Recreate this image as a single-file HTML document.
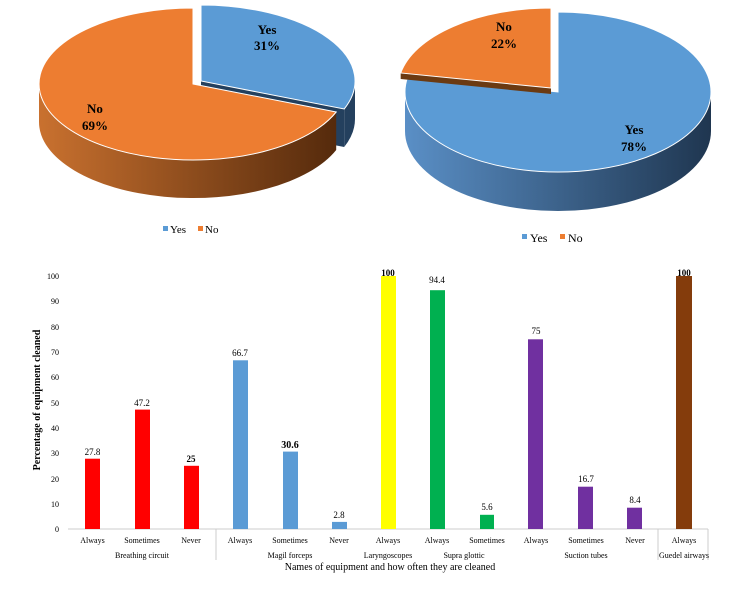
<!DOCTYPE html>
<html><head><meta charset="utf-8"><style>
html,body{margin:0;padding:0;background:#fff;}
svg{display:block;font-family:"Liberation Serif",serif;}
</style></head><body>
<svg width="748" height="602" viewBox="0 0 748 602" xmlns="http://www.w3.org/2000/svg">
<defs>
<linearGradient id="og" x1="0" x2="1" y1="0" y2="0"><stop offset="0" stop-color="#c9712f"/><stop offset="1" stop-color="#552a0c"/></linearGradient>
<linearGradient id="bg" x1="0" x2="1" y1="0" y2="0"><stop offset="0" stop-color="#5a8fc6"/><stop offset="1" stop-color="#1f3650"/></linearGradient>
</defs>
<!-- Left pie -->
<path d="M201,81 L344.2,109 L344.2,147 L201,119 Z" fill="#24405e"/>
<path d="M355,81 A154,76 0 0,1 344.2,109 L344.2,147 A154,76 0 0,0 355,119 Z" fill="#24405e"/>
<path d="M201,81 L201,5 A154,76 0 0,1 344.2,109 Z" fill="#5b9bd5" stroke="#fff" stroke-width="1"/>
<path d="M336.2,112 A154,76 0 0,1 39,84 L39,122 A154,76 0 0,0 336.2,150 Z" fill="url(#og)"/>
<path d="M193,84 L336.2,112 A154,76 0 1,1 193,8 Z" fill="#ed7d31" stroke="#fff" stroke-width="1"/>
<text x="267" y="34" font-size="13" font-weight="bold" text-anchor="middle">Yes</text>
<text x="267" y="50" font-size="13" font-weight="bold" text-anchor="middle">31%</text>
<text x="95" y="113" font-size="13" font-weight="bold" text-anchor="middle">No</text>
<text x="95" y="130" font-size="13" font-weight="bold" text-anchor="middle">69%</text>
<rect x="163" y="226" width="5" height="5" fill="#5b9bd5"/><text x="170" y="233" font-size="11">Yes</text>
<rect x="198" y="226" width="5" height="5" fill="#ed7d31"/><text x="205" y="233" font-size="11">No</text>
<!-- Right pie -->
<path d="M711,92 A153,80 0 0,1 405,92 L405,131 A153,80 0 0,0 711,131 Z" fill="url(#bg)"/>
<path d="M558,92 L558,12 A153,80 0 1,1 407.7,77 Z" fill="#5b9bd5" stroke="#fff" stroke-width="1"/>
<path d="M551,88 L400.7,73 L400.7,79 L551,94 Z" fill="#6b3a12"/>
<path d="M551,88 L400.7,73 A153,80 0 0,1 551,8 Z" fill="#ed7d31" stroke="#fff" stroke-width="1"/>
<text x="504" y="31" font-size="13" font-weight="bold" text-anchor="middle">No</text>
<text x="504" y="48" font-size="13" font-weight="bold" text-anchor="middle">22%</text>
<text x="634" y="134" font-size="13" font-weight="bold" text-anchor="middle">Yes</text>
<text x="634" y="151" font-size="13" font-weight="bold" text-anchor="middle">78%</text>
<rect x="522" y="234" width="5" height="5" fill="#5b9bd5"/><text x="530" y="242" font-size="12">Yes</text>
<rect x="560" y="234" width="5" height="5" fill="#ed7d31"/><text x="568" y="242" font-size="12">No</text>
<!-- Bar chart -->
<g font-size="8" text-anchor="end" fill="#000">
<text x="59" y="532">0</text><text x="59" y="507">10</text><text x="59" y="482">20</text><text x="59" y="456">30</text><text x="59" y="431">40</text><text x="59" y="406">50</text><text x="59" y="380">60</text><text x="59" y="355">70</text><text x="59" y="330">80</text><text x="59" y="304">90</text><text x="59" y="279">100</text>
</g>
<text transform="translate(40,400) rotate(-90)" font-size="10" font-weight="bold" text-anchor="middle">Percentage of equipment cleaned</text>
<line x1="68" y1="529" x2="708" y2="529" stroke="#ccc" stroke-width="1"/>
<line x1="216" y1="529" x2="216" y2="560" stroke="#ccc"/>
<line x1="658" y1="529" x2="658" y2="560" stroke="#ccc"/>
<line x1="708" y1="529" x2="708" y2="560" stroke="#ccc"/>
<g>
<rect x="85" y="458.7" width="15" height="70.3" fill="#ff0000"/>
<rect x="135" y="409.6" width="15" height="119.4" fill="#ff0000"/>
<rect x="184" y="465.8" width="15" height="63.2" fill="#ff0000"/>
<rect x="233" y="360.3" width="15" height="168.7" fill="#5b9bd5"/>
<rect x="283" y="451.6" width="15" height="77.4" fill="#5b9bd5"/>
<rect x="332" y="521.9" width="15" height="7.1" fill="#5b9bd5"/>
<rect x="381" y="276" width="15" height="253" fill="#ffff00"/>
<rect x="430" y="290.2" width="15" height="238.8" fill="#00b050"/>
<rect x="480" y="514.8" width="14" height="14.2" fill="#00b050"/>
<rect x="528" y="339.3" width="15" height="189.7" fill="#7030a0"/>
<rect x="578" y="486.7" width="15" height="42.3" fill="#7030a0"/>
<rect x="627" y="507.7" width="15" height="21.3" fill="#7030a0"/>
<rect x="676" y="276" width="16" height="253" fill="#843c0c"/>
</g>
<g font-size="9" text-anchor="middle">
<text x="92.5" y="455">27.8</text><text x="142" y="406">47.2</text><text x="191" y="462" font-weight="bold">25</text>
<text x="240" y="356">66.7</text><text x="290" y="448" font-weight="bold" font-size="10">30.6</text><text x="339" y="518">2.8</text>
<text x="388" y="276" font-weight="bold">100</text><text x="437" y="283">94.4</text><text x="487" y="510">5.6</text>
<text x="536" y="334">75</text><text x="586" y="482">16.7</text><text x="635" y="503">8.4</text><text x="684" y="276" font-weight="bold">100</text>
</g>
<g font-size="8" text-anchor="middle">
<text x="92.5" y="543">Always</text><text x="142" y="543">Sometimes</text><text x="191" y="543">Never</text>
<text x="240" y="543">Always</text><text x="290" y="543">Sometimes</text><text x="339" y="543">Never</text>
<text x="388" y="543">Always</text><text x="437" y="543">Always</text><text x="487" y="543">Sometimes</text>
<text x="536" y="543">Always</text><text x="586" y="543">Sometimes</text><text x="635" y="543">Never</text><text x="684" y="543">Always</text>
<text x="142" y="558">Breathing circuit</text><text x="290" y="558">Magil forceps</text><text x="388" y="558">Laryngoscopes</text>
<text x="464" y="558">Supra glottic</text><text x="586" y="558">Suction tubes</text><text x="684" y="558">Guedel airways</text>
</g>
<text x="390" y="570" font-size="10" text-anchor="middle">Names of equipment and how often they are cleaned</text>
</svg>
</body></html>
